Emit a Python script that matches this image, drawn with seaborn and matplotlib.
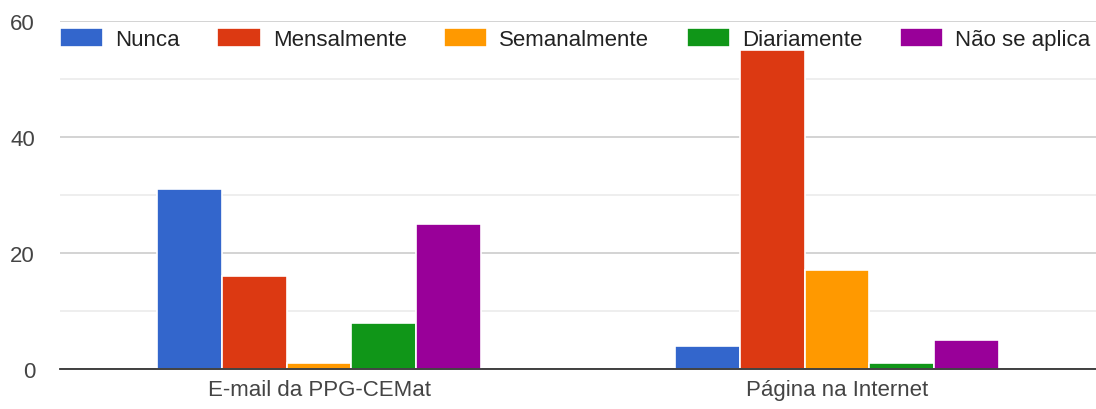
import matplotlib
matplotlib.use("Agg")
import matplotlib.pyplot as plt
import seaborn as sns
import pandas as pd

categories = ["E-mail da PPG-CEMat", "Página na Internet"]
series = ["Nunca", "Mensalmente", "Semanalmente", "Diariamente", "Não se aplica"]
nunca = [31, 4]
mensalmente = [16, 55]
semanalmente = [1, 17]
diariamente = [8, 1]
nao_se_aplica = [25, 5]
colors = ["#3366CC", "#DC3912", "#FF9900", "#109618", "#990099"]

values = [nunca, mensalmente, semanalmente, diariamente, nao_se_aplica]
rows = []
for name, vals in zip(series, values):
    for cat, v in zip(categories, vals):
        rows.append({"canal": cat, "freq": name, "n": v})
df = pd.DataFrame(rows)

sns.set_theme(style="white")
plt.rcParams["font.family"] = ["Liberation Sans", "DejaVu Sans"]

fig = plt.figure(figsize=(10.96, 4.10), dpi=100)
ax = fig.add_axes([60 / 1096, 40 / 410, 1 - 60 / 1096, 348 / 410])

sns.barplot(data=df, x="canal", y="n", hue="freq", hue_order=series,
            palette=colors, width=0.625, saturation=1, edgecolor="white",
            linewidth=1.2, errorbar=None, ax=ax, legend=True, zorder=3)

ax.set_ylim(0, 60)
ax.set_xlim(-0.5, 1.5)
ax.set_yticks([0, 20, 40, 60])
ax.set_yticks([10, 30, 50], minor=True)
ax.grid(axis="y", which="major", color="#cccccc", linewidth=1.2, zorder=0)
ax.grid(axis="y", which="minor", color="#ebebeb", linewidth=1.2, zorder=0)
ax.set_axisbelow(True)
for side in ["top", "right", "left"]:
    ax.spines[side].set_visible(False)
ax.spines["bottom"].set_color("#333333")
ax.spines["bottom"].set_linewidth(1.3)
ax.spines["bottom"].set_zorder(4)
ax.tick_params(axis="both", which="both", length=0, labelsize=16,
               labelcolor="#444444")
ax.tick_params(axis="y", pad=18)
ax.tick_params(axis="x", pad=7)
ax.set_xlabel("")
ax.set_ylabel("")

handles, labels = ax.get_legend_handles_labels()
ax.get_legend().remove()
leg = fig.legend(handles, labels, loc="center left", ncol=5,
                 bbox_to_anchor=(60 / 1096, 1 - 40 / 410), frameon=False,
                 fontsize=16, handlelength=1.95, handleheight=0.95,
                 handletextpad=0.55, columnspacing=1.67, borderaxespad=0,
                 borderpad=0)
for t in leg.get_texts():
    t.set_color("#222222")

fig.savefig("out.png", dpi=100)
